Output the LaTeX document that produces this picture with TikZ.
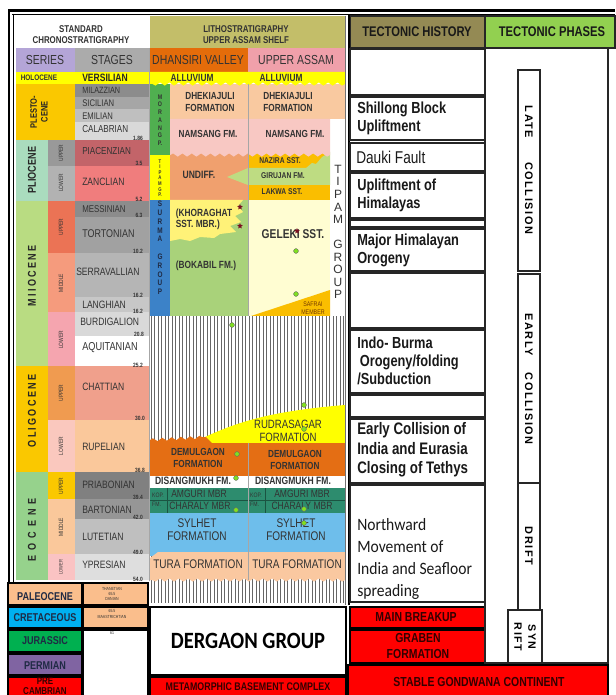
\documentclass[tikz,border=0pt]{standalone}
\usepackage{fontspec}
\setmainfont{Liberation Sans}
\newfontfamily\nar{Liberation Sans}[FakeStretch=0.8]
\newfontfamily\phfont{Liberation Sans}[LetterSpace=14]
\newfontfamily\calibn{Carlito}[FakeStretch=0.9]
\newfontfamily\dergf{Carlito}[FakeStretch=0.88]
\usetikzlibrary{decorations.pathmorphing,shapes.geometric}
\newcommand\fsz[2]{\fontsize{#1}{#2}\selectfont}
\definecolor{txt}{HTML}{333333}
\definecolor{hdlitho}{HTML}{C3BE69}
\definecolor{hdtec}{HTML}{948A54}
\definecolor{hdph}{HTML}{92D050}
\definecolor{serlav}{HTML}{B4A5D7}
\definecolor{dhans}{HTML}{E46C0A}
\definecolor{uassam}{HTML}{F0A0AA}
\definecolor{yel}{HTML}{FFFF00}
\definecolor{gold}{HTML}{FAC800}
\definecolor{plio}{HTML}{AADCBE}
\definecolor{piac}{HTML}{C36469}
\definecolor{zanc}{HTML}{F07D7D}
\definecolor{mio}{HTML}{B9DC82}
\definecolor{mioU}{HTML}{EB7355}
\definecolor{mioM}{HTML}{F59B7D}
\definecolor{mioL}{HTML}{F5A5AF}
\definecolor{oliU}{HTML}{F09B50}
\definecolor{oliL}{HTML}{FAC8BE}
\definecolor{chatt}{HTML}{F0A08C}
\definecolor{rupel}{HTML}{FAC89B}
\definecolor{eoc}{HTML}{96D28C}
\definecolor{eocL}{HTML}{FAC3C3}
\definecolor{dhek}{HTML}{F9C9A0}
\definecolor{nams}{HTML}{F8C8C3}
\definecolor{undiff}{HTML}{F0A06E}
\definecolor{nazira}{HTML}{FABE00}
\definecolor{giru}{HTML}{BEDC82}
\definecolor{boka}{HTML}{A9D27A}
\definecolor{khor}{HTML}{FFF278}
\definecolor{geleki}{HTML}{FFFDD2}
\definecolor{surma}{HTML}{3C82C8}
\definecolor{morang}{HTML}{50AF50}
\definecolor{demul}{HTML}{E46E14}
\definecolor{kopili}{HTML}{2D8C6E}
\definecolor{sylhet}{HTML}{6EBEEB}
\definecolor{tura}{HTML}{FAC8A0}
\definecolor{paleo}{HTML}{FABE8C}
\definecolor{creta}{HTML}{00B0F0}
\definecolor{jura}{HTML}{00B050}
\definecolor{perm}{HTML}{8064A2}
\definecolor{red0}{HTML}{FF0000}
\definecolor{dotg}{HTML}{80E020}
\definecolor{starred}{HTML}{7A1020}
\definecolor{navy}{HTML}{1F2A44}
\begin{document}
\begin{tikzpicture}[x=0.75pt,y=-0.75pt,
  lbl/.style={inner sep=0pt, align=center, text=txt},
  stg/.style={anchor=west, inner sep=0pt, text=txt, font=\nar\fsz{8}{9}},
  numl/.style={inner sep=0pt, text=txt, font=\nar\bfseries\fsz{4.6}{5}},
  seri/.style={rotate=90, inner sep=0pt, align=center, text=black!85, font=\nar\bfseries\fsz{8.5}{9}},
  subs/.style={rotate=90, inner sep=0pt, text=txt, font=\nar\fsz{4.6}{5}},
  frm/.style={inner sep=0pt, align=center, text=txt, font=\nar\bfseries\fsz{7.7}{8.6}},
  regl/.style={inner sep=0pt, align=center, text=txt, font=\nar\fsz{9.4}{9.6}},
  tec/.style={anchor=west, inner sep=0pt, align=left, text=black!90, font=\nar\bfseries\fsz{12}{13.5}},
  phase/.style={rotate=-90, inner sep=0pt, align=center, font=\phfont\bfseries\fsz{8.2}{10}},
  tbox/.style={draw=black!85, line width=0.9pt},
  kbox/.style={draw=black, line width=1.5pt},
  bl/.style={inner sep=0pt, align=center, text=navy, font=\nar\bfseries\fsz{8.5}{9}},
  gdot/.style={circle, fill=dotg, draw=black!60, line width=0.3pt, inner sep=0pt, minimum size=3.6pt},
  starm/.style={star, star points=5, star point ratio=2.2, fill=starred, inner sep=0pt, minimum size=4.5pt},
  stack/.style={inner sep=0pt, align=center},
  wave/.style={decoration={snake, amplitude=1.2pt, segment length=7pt}}
]
\useasboundingbox (0,0) rectangle (615,695);
\fill[white] (0,0) rectangle (615,695);

% ---------- header row 1
\fill[hdlitho] (150,16) rectangle (345,48);
\node[lbl, font=\nar\bfseries\fsz{7.4}{8.4}] (hchr) at (81,35) {STANDARD\\CHRONOSTRATIGRAPHY};
\node[lbl, font=\nar\bfseries\fsz{7.4}{8.4}] (hlit) at (246,35) {LITHOSTRATIGRAPHY\\UPPER ASSAM SHELF};
\draw[tbox, fill=hdtec, line width=1.3pt] (350,16) rectangle (485,48);
\node[lbl, text=black!90, font=\nar\bfseries\fsz{10.5}{11}] (htec) at (417,32) {TECTONIC HISTORY};
\draw[tbox, fill=hdph, line width=1.3pt] (485,16) rectangle (615,48);
\node[lbl, text=black!90, font=\nar\bfseries\fsz{10.5}{11}] (hph) at (552,32) {TECTONIC PHASES};

% ---------- header row 2
\fill[serlav] (16,48) rectangle (75,72);
\fill[black!33] (75,48) rectangle (149,72);
\fill[dhans] (150,48) rectangle (248,72);
\fill[uassam] (248,48) rectangle (345,72);
\node[lbl, font=\nar\fsz{9.8}{10}] (hser) at (45,60) {SERIES};
\node[lbl, font=\nar\fsz{9.8}{10}] (hstg) at (112,60) {STAGES};
\node[lbl, font=\nar\fsz{9.8}{10}] (hdv) at (198,60) {DHANSIRI VALLEY};
\node[lbl, font=\nar\fsz{9.8}{10}] (hua) at (296,60) {UPPER ASSAM};

% ---------- chronostratigraphy fills
\fill[yel] (16,72) rectangle (149,84);
\fill[gold] (16,84) rectangle (75,140);
\fill[black!45] (75,84) rectangle (149,97);
\fill[black!35] (75,97) rectangle (149,109);
\fill[black!25] (75,109) rectangle (149,122);
\fill[black!15] (75,122) rectangle (149,140);
\fill[plio] (16,140) rectangle (48,201);
\fill[black!40] (48,140) rectangle (75,166);
\fill[black!30] (48,166) rectangle (75,201);
\fill[piac] (75,140) rectangle (149,166);
\fill[zanc] (75,166) rectangle (149,201);
\fill[mio] (16,201) rectangle (48,366);
\fill[mioU] (48,201) rectangle (75,253);
\fill[mioM] (48,253) rectangle (75,312);
\fill[mioL] (48,312) rectangle (75,366);
\fill[black!45] (75,201) rectangle (149,217);
\fill[black!37] (75,217) rectangle (149,253);
\fill[black!29] (75,253) rectangle (149,297);
\fill[black!22] (75,297) rectangle (149,312);
\fill[black!15] (75,312) rectangle (149,336);
\fill[white] (75,336) rectangle (149,366);
\fill[gold] (16,366) rectangle (48,472);
\fill[oliU] (48,366) rectangle (75,420);
\fill[oliL] (48,420) rectangle (75,472);
\fill[chatt] (75,366) rectangle (149,420);
\fill[rupel] (75,420) rectangle (149,472);
\fill[eoc] (16,472) rectangle (48,580);
\fill[gold] (48,472) rectangle (75,499);
\fill[rupel] (48,499) rectangle (75,554);
\fill[eocL] (48,554) rectangle (75,580);
\fill[black!50] (75,472) rectangle (149,499);
\fill[black!41] (75,499) rectangle (149,519);
\fill[black!25] (75,519) rectangle (149,554);
\fill[black!13] (75,554) rectangle (149,580);

% series labels
\node[lbl, font=\nar\bfseries\fsz{6}{6}] (holo) at (39,78) {HOLOCENE};
\node[stg, font=\nar\bfseries\fsz{8}{8}, text=black!85] (vers) at (82,78) {VERSILIAN};
\node[seri, font=\nar\bfseries\fsz{7}{8}] (pleis) at (39,112) {PLESTO-\\CENE};
\node[seri] (pliob) at (32,170) {PLIOCENE};
\node[seri, font=\nar\bfseries\addfontfeature{LetterSpace=20}\fsz{8.5}{9}] (miob) at (32,276) {MIIOCENE};
\node[seri, font=\nar\bfseries\addfontfeature{LetterSpace=20}\fsz{8.5}{9}] (olib) at (32,411) {OLIGOCENE};
\node[seri, font=\nar\bfseries\addfontfeature{LetterSpace=45}\fsz{8.5}{9}] (eocb) at (32,530) {EOCENE};
% subseries
\node[subs] (s1) at (61,153) {UPPER};
\node[subs] (s2) at (61,183) {LOWER};
\node[subs] (s3) at (61,227) {UPPER};
\node[subs] (s4) at (61,283) {MIDDLE};
\node[subs] (s5) at (61,340) {LOWER};
\node[subs] (s6) at (61,393) {UPPER};
\node[subs] (s7) at (61,446) {LOWER};
\node[subs] (s8) at (61,486) {UPPER};
\node[subs] (s9) at (61,527) {MIDDLE};
\node[subs, font=\nar\fsz{3.8}{4}] (s10) at (61,567) {LOWER};
% stages
\node[stg, font=\nar\fsz{6.8}{7}] (milaz) at (82,90) {MILAZZIAN};
\node[stg, font=\nar\fsz{7.2}{7}] (sicil) at (82,103) {SICILIAN};
\node[stg, font=\nar\fsz{7.2}{7}] (emil) at (82,116) {EMILIAN};
\node[stg, font=\nar\fsz{7.6}{8}] (calab) at (82,129) {CALABRIAN};
\node[stg, font=\nar\fsz{7.6}{8}] (piacn) at (82,151) {PIACENZIAN};
\node[stg] (zancn) at (82,182) {ZANCLIAN};
\node[stg, font=\nar\fsz{7.4}{8}] (messn) at (82,209) {MESSINIAN};
\node[stg, font=\nar\fsz{8.4}{9}] (torto) at (82,234) {TORTONIAN};
\node[stg] (serra) at (76,272) {SERRAVALLIAN};
\node[stg] (langh) at (82,305) {LANGHIAN};
\node[stg] (burdi) at (80,322) {BURDIGALION};
\node[stg, font=\nar\fsz{8.6}{9}] (aquit) at (82,348) {AQUITANIAN};
\node[stg] (chatn) at (82,387) {CHATTIAN};
\node[stg] (rupn) at (82,447) {RUPELIAN};
\node[stg] (priab) at (82,485) {PRIABONIAN};
\node[stg] (barto) at (82,510) {BARTONIAN};
\node[stg] (lutet) at (82,537) {LUTETIAN};
\node[stg] (ypres) at (82,565) {YPRESIAN};
% ages
\node[numl] (n1) at (138,138) {1.86};
\node[numl] (n2) at (139,163) {3.5};
\node[numl] (n3) at (139,199) {5.2};
\node[numl] (n4) at (139,215) {6.3};
\node[numl] (n5) at (138,251) {10.2};
\node[numl] (n6) at (138,295) {16.2};
\node[numl] (n7) at (138,311) {16.2};
\node[numl] (n8) at (139,334) {20.8};
\node[numl] (n9) at (138,365) {25.2};
\node[numl] (n10) at (140,418) {30.0};
\node[numl] (n11) at (140,470) {36.8};
\node[numl] (n12) at (138,497) {39.4};
\node[numl] (n13) at (138,517) {42.0};
\node[numl] (n14) at (138,552) {49.0};
\node[numl] (n15) at (138,579) {54.0};

% ---------- lithostratigraphy (upper part)
\fill[dhek] (170,84) rectangle (345,119);
\fill[morang] (150,84) rectangle (170,155);
\fill[yel] (150,72) -- (345,72) -- (345,84) decorate[wave] {-- (150,84)} -- cycle;
\fill[white] (330,119) rectangle (345,316);
\fill[undiff] (170,150) rectangle (248,200);
\fill[nazira] (248,150) rectangle (330,169);
\fill[giru] (227,177) -- (248,168) -- (306,168) -- (312,163) -- (316,164) -- (322,157) -- (330,152) -- (330,185) -- (248,185) -- cycle;
\fill[nazira] (248,185) rectangle (330,200);
\fill[nams] (170,119) -- (330,119) -- (330,155) decorate[wave] {-- (170,155)} -- cycle;
\fill[yel] (150,155) rectangle (170,200);
\fill[boka] (170,200) rectangle (248,316);
\fill[geleki] (248,200) rectangle (330,316);
\fill[nazira] (248,317) -- (330,290) -- (330,317) -- cycle;
\fill[khor] (170,200) -- (243,200) -- (238,206) -- (243,212) -- (235,216) -- (241,222) -- (230,226) -- (236,232) -- (220,234) -- (214,238) -- (200,237) -- (190,241) -- (180,239) -- (170,241) -- cycle;
\fill[surma] (150,200) rectangle (170,316);
\draw[black!35, line width=0.4pt] (248,84) -- (248,316);

\node[frm, font=\nar\bfseries\fsz{7.8}{8}] (all1) at (192,78) {ALLUVIUM};
\node[frm, font=\nar\bfseries\fsz{7.8}{8}] (all2) at (281,78) {ALLUVIUM};
\node[frm] (dhk1) at (210,102) {DHEKIAJULI\\FORMATION};
\node[frm] (dhk2) at (288,102) {DHEKIAJULI\\FORMATION};
\node[frm] (nms1) at (208,134) {NAMSANG FM.};
\node[frm] (nms2) at (295,134) {NAMSANG FM.};
\node[frm, font=\nar\bfseries\fsz{8}{8}] (und) at (199,175) {UNDIFF.};
\node[frm, font=\nar\bfseries\fsz{6.3}{7}] (naz) at (280,161) {NAZIRA SST.};
\node[frm, font=\nar\bfseries\fsz{6.3}{7}] (gir) at (283,176) {GIRUJAN FM.};
\node[frm, font=\nar\bfseries\fsz{6.3}{7}] (lak) at (282,192) {LAKWA SST.};
\node[frm, align=left, font=\nar\bfseries\fsz{7.8}{8.5}] (khr) at (204,219) {(KHORAGHAT\\SST. MBR.)};
\node[frm, font=\nar\bfseries\fsz{7.8}{8.5}] (bok) at (206,266) {(BOKABIL FM.)};
\node[frm, font=\nar\bfseries\fsz{9.6}{9.8}] (gel) at (293,234) {GELEKI SST.};
\node[lbl, text=black!55!orange, font=\nar\fsz{5}{6}] (saf) at (313,308) {SAFRAI\\MEMBER};
\node[stack, text=black!80, font=\nar\bfseries\fsz{5}{5.8}] (mor) at (160,120) {M\\O\\R\\A\\N\\G\\P.};
\node[stack, text=black!80, font=\nar\bfseries\fsz{4}{4.2}] (tip1) at (160,178) {T\\I\\P\\A\\M\\G\\P.};
\node[stack, text=navy, font=\nar\bfseries\fsz{6}{6.6}] (sur) at (160,248) {S\\U\\R\\M\\A\\~\\G\\R\\O\\U\\P};
\node[stack, text=txt, font=\fsz{9}{9.4}] (tip2) at (338,232) {T\\I\\P\\A\\M\\~\\G\\R\\O\\U\\P};

% ---------- hatched hiatus
\fill[white] (150,316) rectangle (345,605);
\foreach \hx in {151,154.5,...,344} \draw[black!60, line width=0.75pt] (\hx,316) -- (\hx,603);

% ---------- Palaeogene formations
\fill[yel] (192,443) .. controls (230,425) and (260,412) .. (345,405) -- (345,443) -- cycle;
\fill[demul] (150,443) rectangle (345,476);
\fill[demul] (150,445) -- (150,440) decorate[wave] {-- (206,437)} -- (214,445) -- cycle;
\fill[white] (150,476) rectangle (345,488);
\fill[kopili] (150,488) rectangle (345,513);
\draw[black!40!kopili, line width=0.4pt] (150,500) -- (345,500) (167,488) -- (167,513) (265,488) -- (265,513);
\fill[sylhet] (150,513) rectangle (345,556);
\fill[tura] (150,558) -- (158,552) -- (345,552) -- (345,580) decorate[wave] {-- (150,580)} -- cycle;
\draw[black!35, line width=0.4pt] (248,443) -- (248,580);

\node[regl, font=\nar\fsz{9}{9.6}] (rud) at (288,431) {RUDRASAGAR\\FORMATION};
\node[frm] (dem1) at (198,458) {DEMULGAON\\FORMATION};
\node[frm] (dem2) at (295,460) {DEMULGAON\\FORMATION};
\node[frm, font=\nar\bfseries\fsz{8}{8}] (dis1) at (193,481) {DISANGMUKH FM.};
\node[frm, font=\nar\bfseries\fsz{8}{8}] (dis2) at (293,481) {DISANGMUKH FM.};
\node[lbl, align=left, text=black!80, font=\nar\fsz{4.8}{6.5}] (kop1) at (158,500) {KOP.\\FM.};
\node[lbl, align=left, text=black!80, font=\nar\fsz{4.8}{6.5}] (kop2) at (256,500) {KOP.\\FM.};
\node[lbl, text=black!80, font=\nar\fsz{8}{8}] (amg1) at (199,494) {AMGURI MBR};
\node[lbl, text=black!80, font=\nar\fsz{8}{8}] (amg2) at (302,494) {AMGURI MBR};
\node[lbl, text=black!80, font=\nar\fsz{8}{8}] (cha1) at (200,506) {CHARALY MBR};
\node[lbl, text=black!80, font=\nar\fsz{8}{8}] (cha2) at (302,506) {CHARALY MBR};
\node[regl] (syl1) at (197,530) {SYLHET\\FORMATION};
\node[regl] (syl2) at (296,530) {SYLHET\\FORMATION};
\node[regl] (tur1) at (198,564) {TURA FORMATION};
\node[regl] (tur2) at (297,564) {TURA FORMATION};

% markers
\node[starm] (st1) at (240,207) {};
\node[starm] (st2) at (240,226) {};
\node[starm] (st3) at (297,231) {};
\node[gdot] (d1) at (296,251) {};
\node[gdot] (d2) at (296,294) {};
\node[gdot] (d3) at (232,325) {};
\node[gdot] (d4) at (304,405) {};
\node[gdot] (d5) at (304,429) {};
\node[gdot] (d6) at (237,454) {};
\node[gdot] (d7) at (236,478) {};
\node[gdot] (d8) at (236,510) {};
\node[gdot] (d9) at (304,509) {};
\node[gdot] (d10) at (304,523) {};

% ---------- bottom left blocks
\draw[kbox, fill=paleo] (8,583) rectangle (82,605);
\draw[kbox, fill=creta] (8,607) rectangle (82,628);
\draw[kbox, fill=jura] (8,630) rectangle (82,652);
\draw[kbox, fill=perm] (8,654) rectangle (82,675);
\draw[kbox, fill=red0] (8,677) rectangle (82,705);
\node[bl] (pal) at (45,597) {PALEOCENE};
\node[bl] (cre) at (45,618) {CRETACEOUS};
\node[bl] (jur) at (45,641) {JURASSIC};
\node[bl] (per) at (45,666) {PERMIAN};
\node[bl, text=black!80!red, font=\nar\bfseries\fsz{7.5}{8}] (pre) at (45,686) {PRE\\CAMBRIAN};
\draw[kbox, fill=paleo] (83,583) rectangle (148,605);
\draw[kbox, fill=paleo] (83,607) rectangle (148,628);
\draw[kbox, fill=white] (83,630) rectangle (148,705);
\node[lbl, font=\nar\fsz{3.3}{3.8}] (than) at (112,594) {THANETIAN\\65.5\\DANIAN};
\node[lbl, font=\nar\fsz{3.3}{3.8}] (maas) at (112,614) {65.5\\MAASTRICHTIAN};
\node[lbl, font=\nar\fsz{3.3}{3.8}] (q61) at (112,633) {61};
\draw[kbox, fill=white] (150,607) rectangle (346,675);
\node[lbl, text=black, font=\dergf\bfseries\fsz{17.5}{18}] (derg) at (248,641) {DERGAON GROUP};
\draw[kbox, fill=red0] (150,677) rectangle (346,705);
\node[lbl, text=black!80!red, font=\nar\bfseries\fsz{8.3}{9}] (meta) at (248,687) {METAMORPHIC BASEMENT COMPLEX};

% ---------- frame lines
\draw[line width=1.8pt] (8,10.5) -- (615,10.5);
\draw[line width=0.7pt] (12,14.5) -- (615,14.5);
\draw[line width=1.8pt] (9,10) -- (9,582);
\draw[line width=0.7pt] (13,14) -- (13,582);
\draw[black!35, line width=0.8pt] (149.5,48) -- (149.5,581);
\draw[black!55, line width=0.8pt] (345.5,16) -- (345.5,605);
\draw[black, line width=1.5pt] (349,14) -- (349,605);

% ---------- tectonic history
\draw[tbox] (350,49) rectangle (485,95);
\draw[tbox] (350,97) rectangle (485,140);
\draw[tbox] (350,143) rectangle (485,171);
\draw[tbox] (350,173) rectangle (485,218);
\draw[tbox] (350,220) rectangle (485,227);
\draw[tbox] (350,229) rectangle (485,271);
\draw[tbox] (350,273) rectangle (485,328);
\draw[tbox] (350,330) rectangle (485,393);
\draw[tbox] (350,395) rectangle (485,417);
\draw[tbox] (350,419) rectangle (485,483);
\draw[tbox] (350,485) rectangle (485,602);
\node[tec] (t1) at (357,118) {Shillong Block\\Upliftment};
\node[tec, font=\nar\fsz{12.8}{13}] (t2) at (356,157) {Dauki Fault};
\node[tec] (t3) at (357,195) {Upliftment of\\Himalayas};
\node[tec] (t4) at (357,250) {Major Himalayan\\Orogeny};
\node[tec] (t5) at (357,361) {Indo- Burma\\\hspace{2pt}Orogeny/folding\\/Subduction};
\node[tec, font=\nar\bfseries\fsz{12.5}{14.5}] (t6) at (357,450) {Early Collision of\\India and Eurasia\\Closing of Tethys};
\node[tec, font=\calibn\fsz{13}{16.7}] (t7) at (357,559) {Northward\\Movement of\\India and Seafloor\\spreading};
\draw[kbox, fill=red0] (350,607) rectangle (485,628);
\draw[kbox, fill=red0] (350,630) rectangle (485,663);
\draw[kbox, fill=red0] (348,665) rectangle (608,705);
\node[lbl, text=black!80!red, font=\nar\bfseries\fsz{9.8}{11}] (mbr) at (416,617) {MAIN BREAKUP};
\node[lbl, text=black!80!red, font=\nar\bfseries\fsz{9.8}{11.5}] (grb) at (418,646) {GRABEN\\FORMATION};
\node[lbl, text=black!80!red, font=\nar\bfseries\fsz{9.8}{11}] (sgc) at (479,682) {STABLE GONDWANA CONTINENT};

% ---------- tectonic phases
\draw[tbox, line width=0.8pt] (485,48) rectangle (608,663);
\draw[tbox] (518,70) rectangle (540,271);
\draw[tbox] (518,274) rectangle (540,483);
\draw[tbox] (518,483) rectangle (540,610);
\draw[tbox, fill=white] (508,610) rectangle (542,663);
\node[phase] (p1) at (529,170) {LATE\hspace{18pt}COLLISION};
\node[phase] (p2) at (529,379) {EARLY\hspace{13pt}COLLISION};
\node[phase] (p3) at (529,546) {DRIFT};
\node[phase, font=\phfont\bfseries\fsz{8}{10.5}] (p4) at (525,637) {SYN\\RIFT};
\end{tikzpicture}
\end{document}
